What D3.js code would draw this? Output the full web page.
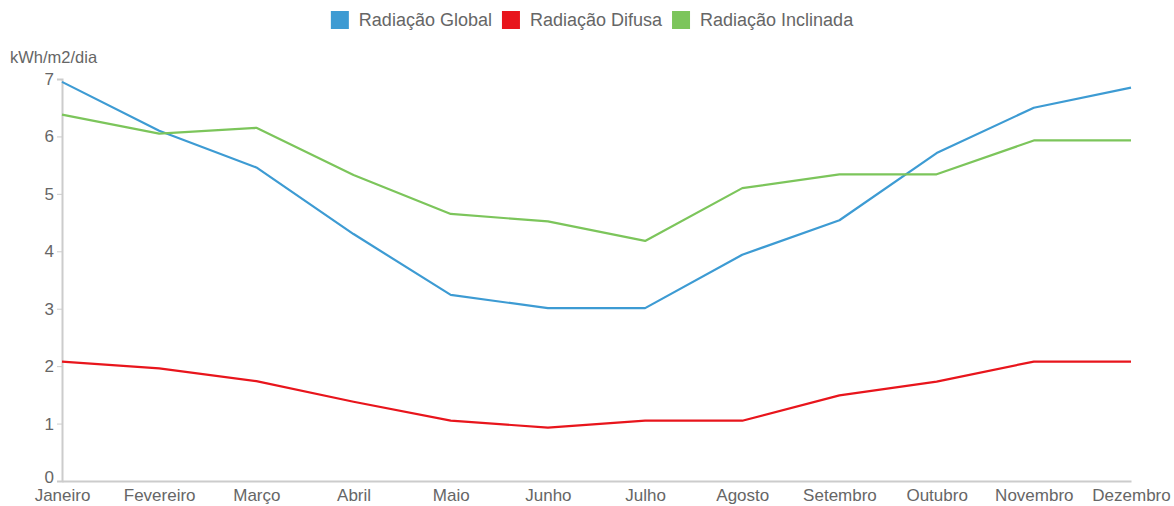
<!DOCTYPE html>
<html>
<head>
<meta charset="utf-8">
<script src="https://cdn.jsdelivr.net/npm/d3@7"></script>
<style>
  body { margin: 0; background: #fff; }
  text { font-family: "Liberation Sans", Arial, sans-serif; fill: #666; }
</style>
</head>
<body>
<div id="chart"></div>
<script>
const months = ['Janeiro', 'Fevereiro', 'Março', 'Abril', 'Maio', 'Junho',
    'Julho', 'Agosto', 'Setembro', 'Outubro', 'Novembro', 'Dezembro'];

const global = [6.95, 6.1, 5.46, 4.3, 3.24, 3.01, 3.01, 3.94, 4.54, 5.71, 6.5, 6.85];
const difusa = [2.08, 1.96, 1.74, 1.38, 1.05, 0.93, 1.05, 1.05, 1.49, 1.73, 2.08, 2.08];
const inclinada = [6.38, 6.05, 6.15, 5.33, 4.65, 4.52, 4.18, 5.1, 5.34, 5.34, 5.93, 5.93];

const seriesNames = ['Radiação Global', 'Radiação Difusa', 'Radiação Inclinada'];
const seriesColors = ['#3d9bd3', '#e8151c', '#7cc55b'];
const yTicks = [0, 1, 2, 3, 4, 5, 6, 7];
const unitLabel = 'kWh/m2/dia';

var svgwidth = 1174;
var svgheight = 506;

const series = [global, difusa, inclinada].map((vals, i) => ({
    name: seriesNames[i],
    color: seriesColors[i],
    values: vals.map((v, j) => ({ month: months[j], value: v }))
}));

var svg = d3.select('#chart')
    .append('svg')
    .attr('width', svgwidth)
    .attr('height', svgheight);

var xscale = d3.scalePoint()
    .domain(months)
    .range([62, 1131]);

var yscale = d3.scaleLinear()
    .domain([0, 7])
    .range([481, 79]);

// y axis
var yaxis = svg.append('g')
    .attr('transform', 'translate(62, 0)')
    .call(d3.axisLeft(yscale).tickValues(yTicks).tickSize(5).tickPadding(3).tickFormat(d3.format('d')));
yaxis.select('.domain').attr('stroke', '#ccc').attr('stroke-width', 2);
yaxis.selectAll('.tick line').attr('stroke', '#ccc');
yaxis.selectAll('.tick text').style('font-size', '17px').attr('fill', '#666');
// lift the zero label a little so it clears "Janeiro"
yaxis.selectAll('.tick').filter(d => d === 0).select('text').attr('dy', '0.1em');

// x axis
var xaxis = svg.append('g')
    .attr('transform', 'translate(0, 481)')
    .call(d3.axisBottom(xscale).tickSize(0).tickPadding(8));
xaxis.select('.domain').attr('stroke', '#ccc').attr('stroke-width', 2);
xaxis.selectAll('.tick text').style('font-size', '17px').attr('fill', '#666');

svg.append('text')
    .attr('x', 10)
    .attr('y', 63)
    .style('font-size', '16.5px')
    .text(unitLabel);

var line = d3.line()
    .x(d => xscale(d.month))
    .y(d => yscale(d.value));

svg.selectAll('.line')
    .data(series)
    .enter()
    .append('path')
    .attr('class', 'line')
    .attr('d', d => line(d.values))
    .attr('fill', 'none')
    .attr('stroke', d => d.color)
    .attr('stroke-width', 2.2)
    .attr('stroke-linejoin', 'round');

// legend, centered above the plot
var legend = svg.append('g');
var lx = 0;
series.forEach(s => {
    var item = legend.append('g').attr('transform', `translate(${lx}, 0)`);
    item.append('rect')
        .attr('x', 0).attr('y', 11)
        .attr('width', 18).attr('height', 18)
        .attr('fill', s.color);
    var t = item.append('text')
        .attr('x', 28).attr('y', 26)
        .style('font-size', '18px')
        .text(s.name);
    lx += 28 + t.node().getComputedTextLength() + 10;
});
var lw = lx - 10;
legend.attr('transform', `translate(${592 - lw / 2}, 0)`);
</script>
</body>
</html>
